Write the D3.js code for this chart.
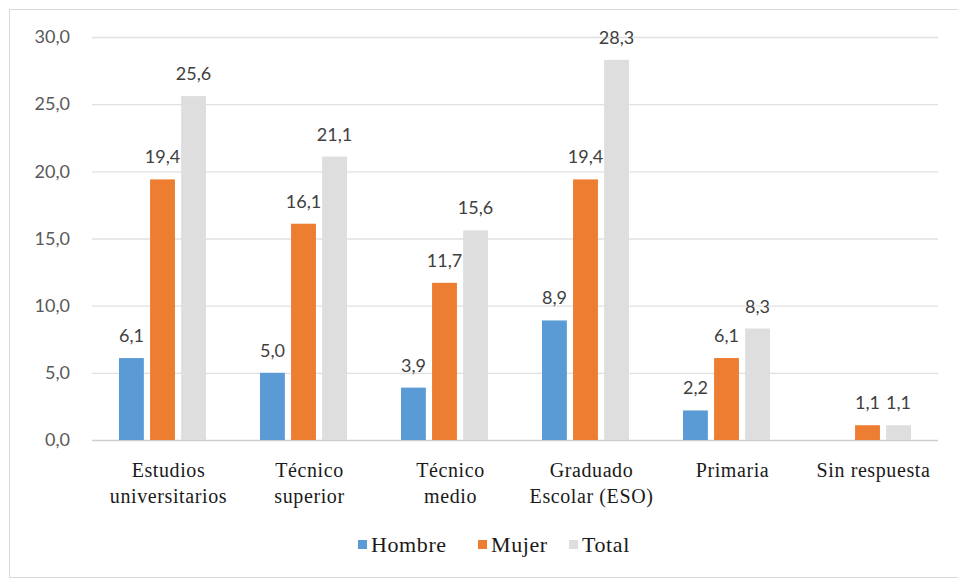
<!DOCTYPE html>
<html>
<head>
<meta charset="utf-8">
<script src="https://cdn.jsdelivr.net/npm/d3@7"></script>
<style>
  body { margin: 0; background: #fff; }
</style>
</head>
<body>
<svg width="958" height="581"></svg>
<script>
var categories = [
  ["Estudios", "universitarios"],
  ["Técnico", "superior"],
  ["Técnico", "medio"],
  ["Graduado", "Escolar (ESO)"],
  ["Primaria"],
  ["Sin respuesta"]
];
var seriesNames = ["Hombre", "Mujer", "Total"];
var hombre = [6.1, 5.0, 3.9, 8.9, 2.2, null];
var mujer = [19.4, 16.1, 11.7, 19.4, 6.1, 1.1];
var total = [25.6, 21.1, 15.6, 28.3, 8.3, 1.1];
var yTicks = [0, 5, 10, 15, 20, 25, 30];
var colors = ["#5b9bd5", "#ed7d31", "#dedede"];

var svg = d3.select("svg"),
  margin = { top: 37, left: 92 },
  width = 938 - margin.left,
  height = 440 - margin.top,
  g = svg.append("g").attr("transform", "translate(" + margin.left + "," + margin.top + ")");

// chart frame
svg.append("rect")
  .attr("x", 9.5).attr("y", 9.5)
  .attr("width", 960).attr("height", 568)
  .attr("fill", "none").attr("stroke", "#d9d9d9");

var x = d3.scaleBand().domain(d3.range(categories.length)).range([0, width]);
var x1 = d3.scaleBand().domain(seriesNames).range([x.bandwidth() / 2 - 43.5, x.bandwidth() / 2 + 43.5]).paddingInner(0.2);
var y = d3.scaleLinear().domain([0, 30]).range([height, 0]);

var fmt = function (v) { return d3.format(".1f")(v).replace(".", ","); };

// gridlines
g.selectAll(".grid").data(yTicks).enter().append("line")
  .attr("x1", 0).attr("x2", width)
  .attr("y1", function (d) { return y(d) + 0.5; })
  .attr("y2", function (d) { return y(d) + 0.5; })
  .attr("stroke", function (d) { return d === 0 ? "#cfcfcf" : "#e0e0e0"; })
  .attr("stroke-width", 1.3);

// y tick labels
g.selectAll(".ylab").data(yTicks).enter().append("text")
  .attr("x", -22).attr("y", function (d) { return y(d); })
  .attr("dy", "0.35em").attr("text-anchor", "end")
  .attr("font-family", "Lato, 'Open Sans', sans-serif").attr("font-size", 18)
  .attr("fill", "#595959")
  .text(fmt);

var data = [hombre, mujer, total];

var groups = g.selectAll(".grp").data(categories).enter().append("g")
  .attr("transform", function (d, i) { return "translate(" + x(i) + ",0)"; });

seriesNames.forEach(function (s, si) {
  var vals = data[si];
  groups.filter(function (d, i) { return vals[i] != null; })
    .append("rect")
    .attr("x", x1(s))
    .attr("width", x1.bandwidth())
    .attr("y", function (d) { return y(vals[categories.indexOf(d)]); })
    .attr("height", function (d) { return height - y(vals[categories.indexOf(d)]); })
    .attr("fill", colors[si]);

  groups.filter(function (d, i) { return vals[i] != null; })
    .append("text")
    .attr("x", x1(s) + x1.bandwidth() / 2)
    .attr("y", function (d) { return y(vals[categories.indexOf(d)]) - 16; })
    .attr("text-anchor", "middle")
    .attr("font-family", "Lato, 'Open Sans', sans-serif").attr("font-size", 18)
    .attr("fill", "#404040")
    .text(function (d) { return fmt(vals[categories.indexOf(d)]); });
});

// category labels
groups.append("text")
  .attr("x", x.bandwidth() / 2 + 6)
  .attr("y", height + 37)
  .attr("text-anchor", "middle")
  .attr("font-family", "'Liberation Serif', serif").attr("font-size", 20)
  .attr("letter-spacing", 0.6)
  .attr("fill", "#1a1a1a")
  .selectAll("tspan").data(function (d) { return d; }).enter().append("tspan")
  .attr("x", x.bandwidth() / 2 + 6)
  .attr("dy", function (d, i) { return i === 0 ? 0 : 26; })
  .text(function (d) { return d; });

// legend
var legendX = [358, 478, 569];
var legend = svg.selectAll(".leg").data(seriesNames).enter().append("g")
  .attr("transform", function (d, i) { return "translate(" + legendX[i] + ",540)"; });
legend.append("rect").attr("width", 9).attr("height", 9)
  .attr("fill", function (d, i) { return colors[i]; });
legend.append("text").attr("x", 13).attr("y", 12)
  .attr("font-family", "'Liberation Serif', serif").attr("font-size", 22)
  .attr("letter-spacing", 0.6)
  .attr("fill", "#1a1a1a")
  .text(function (d) { return d; });
</script>
</body>
</html>
